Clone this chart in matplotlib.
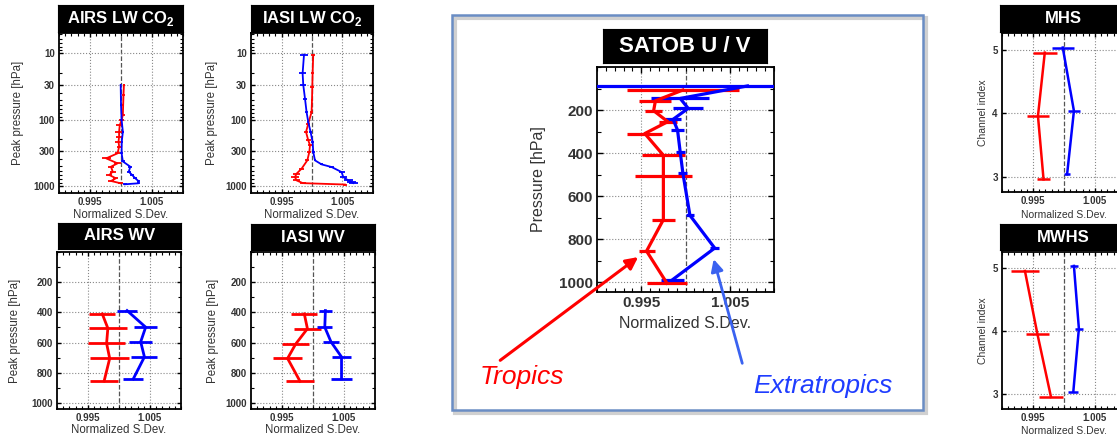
import numpy as np
import matplotlib
matplotlib.use('Agg')
import matplotlib.pyplot as plt
from matplotlib.patches import Rectangle
from matplotlib.ticker import MultipleLocator, LogLocator, NullFormatter

plt.rcParams['font.family'] = ['Liberation Sans', 'DejaVu Sans']
plt.rcParams['mathtext.fontset'] = 'custom'
plt.rcParams['mathtext.rm'] = 'Liberation Sans'
plt.rcParams['mathtext.bf'] = 'Liberation Sans:bold'

W, H = 1117, 441

# ---- AIRS LW CO2 (peak pressure, hPa) ----
airs_co2_trop_p = [30, 43, 60, 85, 102, 121, 153, 182, 216, 257, 324, 386, 459, 516, 614, 689, 773, 849, 920]
airs_co2_trop_x = [1.00047, 1.0004, 1.00035, 1.0003, 1.0001, 0.9998, 0.99969, 0.99969, 0.9996, 0.9997,
                   0.99944, 0.99761, 0.99944, 0.99839, 0.99866, 0.99812, 0.99917, 0.99839, 0.99995]
airs_co2_trop_e = [0.0002, 0.0002, 0.0002, 0.0003, 0.0004, 0.0006, 0.0006, 0.0005, 0.0005, 0.0004,
                   0.0004, 0.0007, 0.0005, 0.0005, 0.0005, 0.0005, 0.0004, 0.0005, 0.0004]
airs_co2_extra_p = [30, 60, 102, 153, 216, 324, 430, 516, 614, 689, 773, 849, 920, 953]
airs_co2_extra_x = [0.99995, 1.0, 1.0001, 1.0003, 1.00012, 1.0001, 1.0003, 1.0015, 1.00125, 1.0018,
                    1.0023, 1.0028, 1.0028, 1.0006]
airs_co2_extra_e = [0.0001, 0.0001, 0.0002, 0.0002, 0.0002, 0.0002, 0.0003, 0.0003, 0.0003, 0.0003,
                    0.0003, 0.0003, 0.0003, 0.0003]

# ---- IASI LW CO2 ----
iasi_co2_trop_p = [10.6, 20, 32, 51, 77, 115, 154, 206, 245, 310, 414, 552, 658, 741, 832, 915, 960]
iasi_co2_trop_x = [1.0002, 1.0001, 1.00005, 1.0, 0.99993, 0.99939, 0.99902, 0.99939, 0.99967, 0.99956,
                   0.99923, 0.9983, 0.99747, 0.99721, 0.99747, 0.9985, 1.0054]
iasi_co2_trop_e = [0.0003, 0.0003, 0.0003, 0.0002, 0.0002, 0.0003, 0.0004, 0.0004, 0.0003, 0.0003,
                   0.0003, 0.0004, 0.0006, 0.0006, 0.0006, 0.0005, 0.0004]
iasi_co2_extra_p = [10.4, 20, 30, 48, 77, 109, 154, 218, 310, 414, 476, 522, 622, 741, 832, 881, 914]
iasi_co2_extra_x = [0.99869, 0.99846, 0.99857, 0.99885, 0.99911, 0.99939, 0.99977, 1.0001, 1.00021,
                    1.00049, 1.00157, 1.00321, 1.00485, 1.00513, 1.00595, 1.00649, 1.00677]
iasi_co2_extra_e = [0.0006, 0.0006, 0.0005, 0.0003, 0.0002, 0.0002, 0.0002, 0.0002, 0.0002, 0.0002,
                    0.0003, 0.0004, 0.0005, 0.0006, 0.0007, 0.0007, 0.0007]

# ---- AIRS WV ----
airs_wv_trop_p = [410, 505, 605, 705, 855]
airs_wv_trop_x = [0.9973, 0.9982, 0.9980, 0.9985, 0.9976]
airs_wv_trop_e = [0.0021, 0.0031, 0.0030, 0.0031, 0.0023]
airs_wv_extra_p = [388, 498, 595, 695, 841]
airs_wv_extra_x = [1.0013, 1.0043, 1.0035, 1.0041, 1.0023]
airs_wv_extra_e = [0.0016, 0.0019, 0.0019, 0.0021, 0.0016]

# ---- IASI WV ----
iasi_wv_trop_p = [410, 508, 610, 705, 856]
iasi_wv_trop_x = [0.9986, 0.9991, 0.9972, 0.9959, 0.9979]
iasi_wv_trop_e = [0.0021, 0.0022, 0.0022, 0.0023, 0.0023]
iasi_wv_extra_p = [388, 498, 595, 695, 841]
iasi_wv_extra_x = [1.0020, 1.0019, 1.0029, 1.0046, 1.0046]
iasi_wv_extra_e = [0.0011, 0.0012, 0.0013, 0.0016, 0.0017]

# ---- SATOB U/V ----
satob_trop_p = [107, 157, 203, 254, 309, 410, 506, 709, 855, 1004]
satob_trop_x = [0.9997, 0.9966, 0.9964, 0.9980, 0.9954, 0.9975, 0.9975, 0.9975, 0.9956, 0.9979]
satob_trop_e = [0.0063, 0.0018, 0.0010, 0.0010, 0.0020, 0.0024, 0.0032, 0.0013, 0.0009, 0.0023]
satob_extra_p = [88, 146, 192, 243, 293, 394, 492, 689, 841, 989]
satob_extra_x = [1.0070, 0.9994, 1.0003, 0.9986, 0.9991, 0.9994, 0.9997, 1.0005, 1.0033, 0.9985]
satob_extra_e = [0.0175, 0.0033, 0.0017, 0.0009, 0.0007, 0.0005, 0.0005, 0.0005, 0.0005, 0.0013]

# ---- MHS / MWHS (channel index) ----
mhs_trop_ch = [4.96, 3.96, 2.96]
mhs_trop_x = [0.9969, 0.9958, 0.9967]
mhs_trop_e = [0.0019, 0.0017, 0.0010]
mhs_extra_ch = [5.04, 4.04, 3.04]
mhs_extra_x = [0.9998, 1.0016, 1.0005]
mhs_extra_e = [0.0018, 0.0009, 0.0005]

mwhs_trop_ch = [4.95, 3.96, 2.96]
mwhs_trop_x = [0.9937, 0.9957, 0.9979]
mwhs_trop_e = [0.0022, 0.0019, 0.0020]
mwhs_extra_ch = [5.03, 4.04, 3.04]
mwhs_extra_x = [1.0016, 1.0024, 1.0015]
mwhs_extra_e = [0.0007, 0.0007, 0.0008]

RED = '#ff0000'
BLUE = '#0000ff'


def rect(l, t, r, b):
    return [l / W, 1 - b / H, (r - l) / W, (b - t) / H]


fig = plt.figure(figsize=(W / 100, H / 100), dpi=100)


def title_box(l, t, r, b, text, fs):
    tax = fig.add_axes(rect(l, t, r, b))
    tax.set_facecolor('black')
    tax.set_xticks([])
    tax.set_yticks([])
    tax.text(0.5, 0.5, text, color='white', fontsize=fs, fontweight='bold',
             ha='center', va='center', transform=tax.transAxes)


def panel(box, ylabel, fs_tick, fs_lab, xlab_y, ylab_x):
    ax = fig.add_axes(rect(*box))
    ax.set_xlim(0.99, 1.01)
    ax.set_xticks([0.995, 1.005])
    ax.set_xticklabels(['0.995', '1.005'])
    ax.xaxis.set_minor_locator(MultipleLocator(0.001))
    ax.axvline(1.0, color='#555555', ls='--', lw=0.9, zorder=1)
    ax.grid(True, which='major', ls=':', color='#888888', lw=0.8)
    ax.tick_params(which='both', direction='in', top=True, right=True,
                   labelsize=fs_tick, labelcolor='#333333')
    ax.tick_params(which='major', length=3, width=1, pad=3)
    ax.tick_params(which='minor', length=2, width=0.8)
    for s in ax.spines.values():
        s.set_linewidth(1.3)
    ax.set_xlabel('Normalized S.Dev.', fontsize=fs_lab, color='#333333', va='center')
    ax.xaxis.set_label_coords(0.5, xlab_y)
    ax.set_ylabel(ylabel, fontsize=fs_lab, color='#333333', va='center')
    ax.yaxis.set_label_coords(ylab_x, 0.5)
    return ax


def bold_ticks(ax):
    for lab in ax.get_xticklabels() + ax.get_yticklabels():
        lab.set_fontweight('bold')


def draw(ax, x, y, e, color, lw):
    ax.errorbar(x, y, xerr=e, color=color, lw=lw, elinewidth=lw, capsize=0, zorder=3)


def log_axis(ax):
    ax.set_yscale('log')
    ax.set_ylim(1290, 4.9)
    ax.set_yticks([10, 30, 100, 300, 1000])
    ax.set_yticklabels(['10', '30', '100', '300', '1000'])
    ax.yaxis.set_minor_locator(LogLocator(subs=np.arange(2, 10)))
    ax.yaxis.set_minor_formatter(NullFormatter())


def lin_axis(ax, top=0, bottom=1040):
    ax.set_ylim(bottom, top)
    ax.set_yticks([200, 400, 600, 800, 1000])
    ax.yaxis.set_minor_locator(MultipleLocator(100))


# AIRS LW CO2
ax = panel((59, 33, 183, 193), 'Peak pressure [hPa]', 7, 8.3, -0.1375, -0.33)
log_axis(ax)
bold_ticks(ax)
draw(ax, airs_co2_trop_x, airs_co2_trop_p, airs_co2_trop_e, RED, 1.3)
draw(ax, airs_co2_extra_x, airs_co2_extra_p, airs_co2_extra_e, BLUE, 1.3)
title_box(58, 5, 183, 32, r'AIRS LW CO$_\mathbf{2}$', 12)

# IASI LW CO2
ax = panel((251, 33, 373, 193), 'Peak pressure [hPa]', 7, 8.3, -0.1375, -0.32)
log_axis(ax)
bold_ticks(ax)
draw(ax, iasi_co2_trop_x, iasi_co2_trop_p, iasi_co2_trop_e, RED, 1.3)
draw(ax, iasi_co2_extra_x, iasi_co2_extra_p, iasi_co2_extra_e, BLUE, 1.3)
title_box(251, 5, 373, 32, r'IASI LW CO$_\mathbf{2}$', 12)

# AIRS WV
ax = panel((57, 252, 181, 409), 'Peak pressure [hPa]', 7, 8.3, -0.134, -0.34)
lin_axis(ax)
bold_ticks(ax)
draw(ax, airs_wv_trop_x, airs_wv_trop_p, airs_wv_trop_e, RED, 2)
draw(ax, airs_wv_extra_x, airs_wv_extra_p, airs_wv_extra_e, BLUE, 2)
title_box(58, 223, 181, 249, 'AIRS WV', 12)

# IASI WV
ax = panel((251, 252, 375, 409), 'Peak pressure [hPa]', 7, 8.3, -0.134, -0.31)
lin_axis(ax)
bold_ticks(ax)
draw(ax, iasi_wv_trop_x, iasi_wv_trop_p, iasi_wv_trop_e, RED, 2)
draw(ax, iasi_wv_extra_x, iasi_wv_extra_p, iasi_wv_extra_e, BLUE, 2)
title_box(251, 224, 375, 250, 'IASI WV', 12)

# SATOB U/V
ax_s = panel((597, 67, 774, 292), 'Pressure [hPa]', 11, 11.5, -0.138, -0.333)
lin_axis(ax_s, 0, 1045)
bold_ticks(ax_s)
ax_s.tick_params(which='major', length=4)
ax_s.tick_params(which='minor', length=3)
draw(ax_s, satob_trop_x, satob_trop_p, satob_trop_e, RED, 2.3)
draw(ax_s, satob_extra_x, satob_extra_p, satob_extra_e, BLUE, 2.3)
title_box(603, 29, 767, 63, 'SATOB U / V', 16)

# MHS
ax = panel((1002, 33, 1126, 192), 'Channel index', 7, 7.5, -0.145, -0.153)
ax.set_ylim(2.76, 5.27)
ax.set_yticks([3, 4, 5])
bold_ticks(ax)
draw(ax, mhs_trop_x, mhs_trop_ch, mhs_trop_e, RED, 1.8)
draw(ax, mhs_extra_x, mhs_extra_ch, mhs_extra_e, BLUE, 1.8)
title_box(1000, 5, 1126, 32, 'MHS', 12)

# MWHS
ax = panel((1002, 252, 1126, 409), 'Channel index', 7, 7.5, -0.14, -0.153)
ax.set_ylim(2.77, 5.25)
ax.set_yticks([3, 4, 5])
bold_ticks(ax)
draw(ax, mwhs_trop_x, mwhs_trop_ch, mwhs_trop_e, RED, 1.8)
draw(ax, mwhs_extra_x, mwhs_extra_ch, mwhs_extra_e, BLUE, 1.8)
title_box(1000, 224, 1126, 250, 'MWHS', 12)

# framed SATOB box with a soft shadow
shadow = Rectangle((455 / W, 1 - 413 / H), (923 - 452) / W, (410 - 15) / H,
                   transform=fig.transFigure, fill=False, edgecolor='#d0d0d0', lw=3, zorder=0)
frame = Rectangle((452 / W, 1 - 410 / H), (923 - 452) / W, (410 - 15) / H,
                  transform=fig.transFigure, fill=False, edgecolor='#6a8dc4', lw=1.8, zorder=1)
fig.add_artist(shadow)
fig.add_artist(frame)

# labels with arrows
fig.text(522 / W, 1 - 377 / H, 'Tropics', color=RED, fontsize=19, style='italic',
         ha='center', va='center')
fig.text(823 / W, 1 - 386 / H, 'Extratropics', color='#1f3dff', fontsize=19, style='italic',
         ha='center', va='center')
ax_s.annotate('', xy=(0.9949, 875), xycoords='data',
              xytext=(498 / W, 1 - 362 / H), textcoords='figure fraction',
              arrowprops=dict(arrowstyle='-|>', color=RED, lw=2.2, mutation_scale=18),
              annotation_clip=False)
ax_s.annotate('', xy=(1.0031, 880), xycoords='data',
              xytext=(743 / W, 1 - 366 / H), textcoords='figure fraction',
              arrowprops=dict(arrowstyle='-|>', color='#3a62f0', lw=2.0, mutation_scale=18),
              annotation_clip=False)

fig.savefig('out.png', dpi=100)
